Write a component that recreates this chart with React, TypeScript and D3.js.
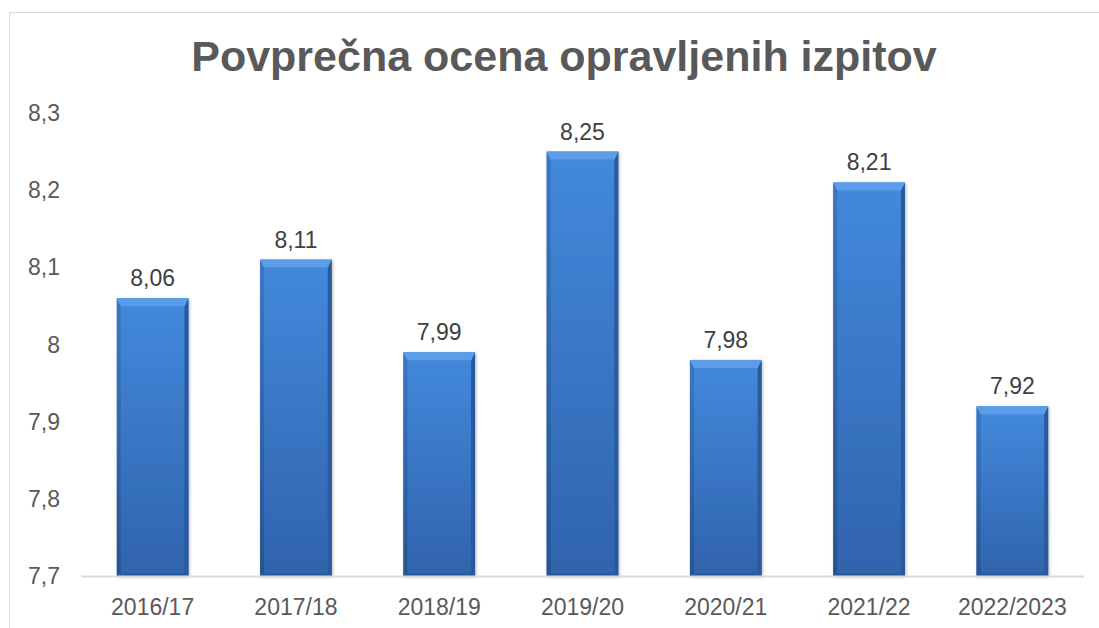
import React from 'react';
import * as d3 from 'd3';

const categories = ['2016/17', '2017/18', '2018/19', '2019/20', '2020/21', '2021/22', '2022/2023'];
const values = [8.06, 8.11, 7.99, 8.25, 7.98, 8.21, 7.92];
const yTicks = [7.7, 7.8, 7.9, 8, 8.1, 8.2, 8.3];
const title = 'Povprečna ocena opravljenih izpitov';

const fmt = (v: number) => String(v).replace('.', ',');

export default function App() {
  const width = 1099;
  const height = 628;
  const left = 81, right = 1084, top = 113, bottom = 576;

  const x = d3.scaleBand<string>().domain(categories).range([left, right]).paddingInner(0.5).paddingOuter(0.25);
  const y = d3.scaleLinear().domain([7.7, 8.3]).range([bottom, top]);
  const font = 'Liberation Sans, Arial, sans-serif';
  const bw = x.bandwidth();
  const bev = 8;
  const side = 4;

  return (
    <svg width={width} height={height} style={{ position: 'absolute', left: 0, top: 0, background: '#fff' }}>
      <defs>
        <linearGradient id="body" x1="0" y1="0" x2="0" y2="1">
          <stop offset="0" stopColor="#4389dc" />
          <stop offset="1" stopColor="#3063ad" />
        </linearGradient>
        <linearGradient id="sideL" x1="0" y1="0" x2="0" y2="1">
          <stop offset="0" stopColor="#3a77c4" />
          <stop offset="1" stopColor="#27548f" />
        </linearGradient>
        <filter id="shadow" x="-20%" y="-20%" width="140%" height="140%">
          <feDropShadow dx="1" dy="1" stdDeviation="1.5" floodColor="#000" floodOpacity="0.3" />
        </filter>
      </defs>
      <rect x={9.5} y={12.5} width={1100} height={640} fill="#fff" stroke="#d9d9d9" />
      <text x={564} y={71} textAnchor="middle" fontFamily={font} fontWeight="bold" fontSize={43} fill="#595959">
        {title}
      </text>
      {yTicks.map(t => (
        <text key={t} x={60} y={y(t) + 8} textAnchor="end" fontFamily={font} fontSize={23} fill="#595959">
          {fmt(t)}
        </text>
      ))}
      {categories.map((c, i) => {
        const x0 = x(c)!;
        const x1 = x0 + bw;
        const yt = y(values[i]);
        const yb = y(7.7);
        return (
          <g key={c}>
            <g filter="url(#shadow)">
              <rect x={x0} y={yt} width={bw} height={yb - yt} fill="url(#body)" />
            </g>
            <polygon points={`${x0},${yt} ${x0 + side},${yt + bev} ${x0 + side},${yb - 3} ${x0},${yb}`} fill="url(#sideL)" />
            <polygon points={`${x1},${yt} ${x1 - side},${yt + bev} ${x1 - side},${yb - 3} ${x1},${yb}`} fill="#2a5a9c" />
            <polygon points={`${x0},${yb} ${x0 + side},${yb - 3} ${x1 - side},${yb - 3} ${x1},${yb}`} fill="#2b5a98" />
            <polygon points={`${x0},${yt} ${x1},${yt} ${x1 - side},${yt + bev} ${x0 + side},${yt + bev}`} fill="#5b9de8" />
            <text x={x0 + bw / 2} y={yt - 12} textAnchor="middle" fontFamily={font} fontSize={23} fill="#404040">
              {fmt(values[i])}
            </text>
          </g>
        );
      })}
      <line x1={left} x2={right} y1={bottom + 0.5} y2={bottom + 0.5} stroke="#d9d9d9" strokeWidth={2} />
      {categories.map(c => (
        <text key={c} x={x(c)! + bw / 2} y={615} textAnchor="middle" fontFamily={font} fontSize={23} fill="#595959">
          {c}
        </text>
      ))}
    </svg>
  );
}
